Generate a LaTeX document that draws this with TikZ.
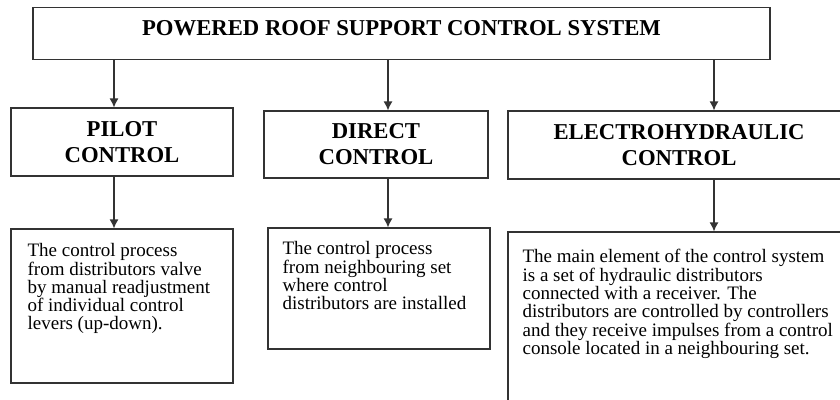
\documentclass[tikz,border=0pt]{standalone}
\usepackage{fontspec}
\setmainfont{Liberation Serif}
\usetikzlibrary{arrows.meta}

\tikzset{
  box/.style={draw=black!80, line width=1.2pt, inner sep=0pt},
  head/.style={box, align=center, font=\fontsize{22.7}{26}\selectfont\bfseries},
  body/.style={inner sep=0pt, anchor=north west, align=left, font=\fontsize{19}{18.3}\selectfont},
  link/.style={->, line width=1.2pt, black!80}
}

\begin{document}
\begin{tikzpicture}[>={Latex[length=9pt,width=9pt]}, x=1pt, y=-1pt]
        \useasboundingbox (0,0) rectangle (840,399);
        \clip (0,0) rectangle (840,399);
        % arrow columns
        \coordinate (c1) at (114,0);
        \coordinate (c2) at (388,0);
        \coordinate (c3) at (714,0);
        % top
        \node[head, minimum width=737pt, minimum height=52pt, text height=15.3pt, text depth=10pt] (sys) at (401.5,33.3) {POWERED ROOF SUPPORT CONTROL SYSTEM};
        % kinds of control
        \node[head, minimum width=222pt, minimum height=68pt] (pilot) at (122,142) {PILOT\\CONTROL};
        \node[head, minimum width=224pt, minimum height=67pt] (direct) at (376,144.5) {DIRECT\\CONTROL};
        \node[head, minimum width=342pt, minimum height=68pt] (electro) at (679,145) {ELECTROHYDRAULIC\\CONTROL};
        % descriptions
        \node[box, minimum width=222pt, minimum height=154pt] (pilotb) at (122,306) {};
        \node[box, minimum width=222pt, minimum height=121pt] (directb) at (379,288.5) {};
        \node[box, minimum width=342pt, minimum height=188pt] (electrob) at (679,326) {};
        \node[body] (pilott) at ([xshift=17pt,yshift=-15pt]pilotb.north west) {The control process\\from distributors valve\\by manual readjustment\\of individual control\\levers (up-down).};
        \node[body] (directt) at ([xshift=15pt,yshift=-14pt]directb.north west) {The control process\\from neighbouring set\\where control\\distributors are installed};
        \node[body] (electrot) at ([xshift=15pt,yshift=-18pt]electrob.north west) {The main element of the control system\\is a set of hydraulic distributors\\connected with a receiver. The\\distributors are controlled by controllers\\and they receive impulses from a control\\console located in a neighbouring set.};
        % arrows
        \draw[link] (sys.south -| c1) -- (pilot.north -| c1);
        \draw[link] (sys.south -| c2) -- (direct.north -| c2);
        \draw[link] (sys.south -| c3) -- (electro.north -| c3);
        \draw[link] (pilot.south -| c1) -- (pilotb.north -| c1);
        \draw[link] (direct.south -| c2) -- (directb.north -| c2);
        \draw[link] (electro.south -| c3) -- (electrob.north -| c3);
\end{tikzpicture}
\end{document}
